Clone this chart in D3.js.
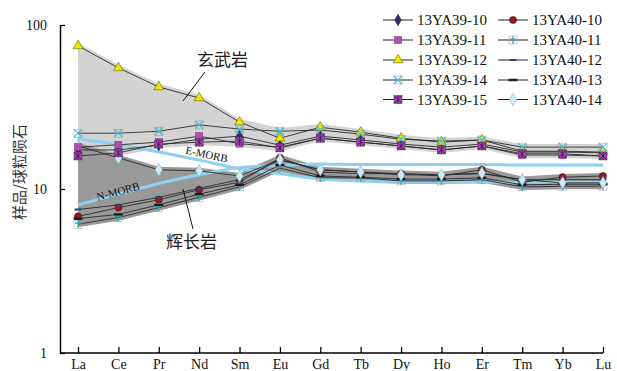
<!DOCTYPE html>
<html>
<head>
<meta charset="utf-8">
<script src="https://cdn.jsdelivr.net/npm/d3@7"></script>
<style>
  html, body { margin: 0; padding: 0; background: #fff; }
  svg { display: block; }
</style>
</head>
<body>
<svg id="chart" width="617" height="371"></svg>
<script>
// REE elements (x categories) and y tick values
const elements = ["La","Ce","Pr","Nd","Sm","Eu","Gd","Tb","Dy","Ho","Er","Tm","Yb","Lu"];
const yTicks = [1, 10, 100];

// Basalt samples (chondrite-normalised)
const s39_10 = [17.3, 17.3, 18.5, 20.1, 21.0, 18.5, 21.0, 19.9, 18.8, 18.0, 18.8, 16.8, 16.8, 16.6];
const s39_11 = [18.0, 18.6, 19.3, 21.0, 18.9, 18.0, 20.4, 19.3, 18.3, 17.3, 18.3, 16.1, 16.1, 15.9];
const s39_12 = [74.6, 54.8, 41.9, 35.9, 25.6, 20.4, 23.8, 22.2, 20.4, 19.3, 19.9, 17.0, 17.0, 16.8];
const s39_14 = [21.9, 21.9, 22.5, 24.6, 23.2, 22.5, 22.9, 21.6, 20.1, 19.6, 19.9, 18.0, 18.0, 18.0];
const s39_15 = [15.9, 16.6, 18.8, 19.3, 19.6, 17.8, 20.4, 19.3, 18.3, 17.3, 18.3, 16.4, 16.4, 15.9];

// Gabbro samples
const s40_10 = [6.8, 7.7, 8.6, 9.9, 11.0, 15.5, 12.7, 12.4, 12.4, 12.0, 13.1, 11.0, 11.8, 12.0];
const s40_11 = [6.1, 6.7, 7.7, 8.9, 10.3, 13.4, 11.7, 11.7, 11.2, 11.2, 11.4, 10.3, 10.4, 10.4];
const s40_12 = [7.5, 8.0, 8.9, 10.1, 11.4, 15.0, 13.1, 12.7, 12.4, 12.2, 12.4, 11.4, 11.4, 11.4];
const s40_13 = [6.6, 7.0, 8.0, 9.3, 10.6, 14.0, 12.0, 11.8, 11.5, 11.5, 11.7, 10.6, 10.7, 10.7];
const s40_14 = [18.3, 15.5, 13.1, 12.9, 12.0, 15.1, 13.1, 12.7, 12.2, 12.2, 12.5, 11.4, 10.9, 10.9];

// Reference MORB curves
const eMorb = [20.3, 18.6, 16.8, 15.0, 13.3, 12.4, 11.5, 11.2, 11.0, 11.0, 11.0, 11.0, 11.0, 11.0];
const nMorb = [8.0, 9.3, 10.8, 12.2, 13.5, 13.9, 14.2, 14.1, 14.1, 14.1, 14.1, 14.0, 14.0, 14.0];

const basalt = [
  { name: "13YA39-10", values: s39_10, marker: "diamondNavy" },
  { name: "13YA39-11", values: s39_11, marker: "squareMagenta" },
  { name: "13YA39-12", values: s39_12, marker: "triangleYellow" },
  { name: "13YA39-14", values: s39_14, marker: "boxX" },
  { name: "13YA39-15", values: s39_15, marker: "boxStar" }
];
const gabbro = [
  { name: "13YA40-10", values: s40_10, marker: "circleRed" },
  { name: "13YA40-11", values: s40_11, marker: "boxPlus" },
  { name: "13YA40-12", values: s40_12, marker: "dashBlue" },
  { name: "13YA40-13", values: s40_13, marker: "dashBlack" },
  { name: "13YA40-14", values: s40_14, marker: "diamondLight" }
];

const svg = d3.select("#chart");
const x = d3.scalePoint().domain(elements).range([78, 603]);
const y = d3.scaleLog().domain([1, 100]).range([353, 25]);

// envelope bands
function band(group, fill) {
  const pad = 1.045;
  const rows = elements.map((e, i) => ({
    e,
    lo: d3.min(group, s => s.values[i]) / pad,
    hi: d3.max(group, s => s.values[i]) * pad
  }));
  svg.append("path")
    .datum(rows)
    .attr("fill", fill)
    .attr("d", d3.area().x(d => x(d.e)).y0(d => y(d.lo)).y1(d => y(d.hi)));
}
band(basalt, "#d3d3d3");
band(gabbro, "#999999");

// MORB reference curves
const smooth = d3.line().x((d, i) => x(elements[i])).y(d => y(d)).curve(d3.curveMonotoneX);
[eMorb, nMorb].forEach(arr => {
  svg.append("path").datum(arr)
    .attr("fill", "none").attr("stroke", "#8dd0ef").attr("stroke-width", 3)
    .attr("d", smooth);
});

// sample lines
const straight = d3.line().x((d, i) => x(elements[i])).y(d => y(d));
const allSeries = gabbro.concat(basalt);
allSeries.forEach(s => {
  svg.append("path").datum(s.values)
    .attr("fill", "none").attr("stroke", "#2b2b2b").attr("stroke-width", 0.9)
    .attr("d", straight);
});

// marker drawing
function drawMarker(g, type, cx, cy) {
  const m = g.append("g").attr("transform", `translate(${cx},${cy})`);
  switch (type) {
    case "diamondNavy":
      m.append("path").attr("d", d3.symbol(d3.symbolDiamond, 38)())
        .attr("fill", "#2c2c6c").attr("stroke", "#15153a").attr("stroke-width", 0.5);
      break;
    case "circleRed":
      m.append("circle").attr("r", 3.6)
        .attr("fill", "#8e1d1d").attr("stroke", "#4a0b0b").attr("stroke-width", 0.5);
      break;
    case "squareMagenta":
      m.append("rect").attr("x", -3.5).attr("y", -3.5).attr("width", 7).attr("height", 7)
        .attr("fill", "#b04fb0").attr("stroke", "#7a2a7a").attr("stroke-width", 0.5);
      break;
    case "triangleYellow":
      m.append("path").attr("d", d3.symbol(d3.symbolTriangle, 42)())
        .attr("fill", "#f3e400").attr("stroke", "#6b6400").attr("stroke-width", 0.6);
      break;
    case "boxX":
      m.append("rect").attr("x", -4).attr("y", -4).attr("width", 8).attr("height", 8)
        .attr("fill", "none").attr("stroke", "#9a9a9a").attr("stroke-width", 0.5);
      m.append("path").attr("d", "M-4,-4L4,4M-4,4L4,-4")
        .attr("stroke", "#3fc0dc").attr("stroke-width", 1.2);
      break;
    case "boxStar":
      m.append("rect").attr("x", -4).attr("y", -4).attr("width", 8).attr("height", 8)
        .attr("fill", "#9b4aa8").attr("stroke", "#5a2a6a").attr("stroke-width", 0.5);
      m.append("path").attr("d", "M-4,-4L4,4M-4,4L4,-4M0,-4L0,4")
        .attr("stroke", "#4e145e").attr("stroke-width", 0.9);
      break;
    case "boxPlus":
      m.append("rect").attr("x", -4).attr("y", -4).attr("width", 8).attr("height", 8)
        .attr("fill", "none").attr("stroke", "#9a9a9a").attr("stroke-width", 0.5);
      m.append("path").attr("d", "M0,-4L0,4M-3,-1L3,-1")
        .attr("stroke", "#2aa6b8").attr("stroke-width", 1.2);
      break;
    case "dashBlue":
      m.append("rect").attr("x", -3.5).attr("y", -1).attr("width", 7).attr("height", 2)
        .attr("fill", "#1f448f");
      break;
    case "dashBlack":
      m.append("rect").attr("x", -4.5).attr("y", -1.2).attr("width", 9).attr("height", 2.4)
        .attr("fill", "#1e1e1e");
      break;
    case "diamondLight":
      m.append("path").attr("d", d3.symbol(d3.symbolDiamond, 45)())
        .attr("fill", "#cdebf5").attr("stroke", "#7bb7cc").attr("stroke-width", 0.6);
      break;
  }
}

const markerLayer = svg.append("g");
allSeries.forEach(s => {
  s.values.forEach((v, i) => drawMarker(markerLayer, s.marker, x(elements[i]), y(v)));
});

// axes
const serif = "'Liberation Serif', 'Times New Roman', serif";
const yAxis = svg.append("g").attr("transform", "translate(60,0)")
  .call(d3.axisLeft(y).tickValues(yTicks).tickFormat(d3.format("d"))
    .tickSize(-5).tickSizeOuter(0).tickPadding(13));
const xAxis = svg.append("g").attr("transform", "translate(0,353)")
  .call(d3.axisBottom(x).tickSize(-6).tickSizeOuter(0).tickPadding(6));
xAxis.select(".domain").remove();
svg.append("line").attr("x1", 60).attr("x2", x("Lu")).attr("y1", 353).attr("y2", 353)
  .attr("stroke", "#000").attr("stroke-width", 1.5);
[yAxis, xAxis].forEach(a => {
  a.selectAll("path.domain").attr("stroke", "#000").attr("stroke-width", 1.5);
  a.selectAll(".tick line").attr("stroke", "#000").attr("stroke-width", 1.3);
  a.selectAll(".tick text").attr("font-family", serif).attr("font-size", 14).attr("fill", "#111");
});

// y axis title
svg.append("text")
  .attr("transform", "translate(25,172) rotate(-90)")
  .attr("text-anchor", "middle")
  .attr("font-family", "'Noto Sans CJK SC', sans-serif")
  .attr("font-size", 15).attr("fill", "#333")
  .text("样品/球粒陨石");

// group annotations
const cjk = "'Noto Sans CJK SC', sans-serif";
svg.append("text").attr("x", 197).attr("y", 66)
  .attr("font-family", cjk).attr("font-size", 17).attr("fill", "#222").text("玄武岩");
svg.append("line").attr("x1", 205).attr("y1", 72).attr("x2", 183).attr("y2", 101)
  .attr("stroke", "#111").attr("stroke-width", 1);
svg.append("text").attr("x", 166).attr("y", 248)
  .attr("font-family", cjk).attr("font-size", 17).attr("fill", "#222").text("辉长岩");
svg.append("line").attr("x1", 183).attr("y1", 189).attr("x2", 193).attr("y2", 229)
  .attr("stroke", "#111").attr("stroke-width", 1);

svg.append("text")
  .attr("transform", "translate(206,158) rotate(12)")
  .attr("text-anchor", "middle")
  .attr("font-family", serif).attr("font-size", 11).attr("fill", "#111")
  .text("E-MORB");
svg.append("text")
  .attr("transform", "translate(119,195) rotate(-15)")
  .attr("text-anchor", "middle")
  .attr("font-family", serif).attr("font-size", 11).attr("fill", "#111")
  .text("N-MORB");

// legend
const legendRows = [20, 40, 60, 80, 99.5];
const legendCols = [
  { lineX: 383, textX: 417, items: basalt },
  { lineX: 498, textX: 532, items: gabbro }
];
const legend = svg.append("g");
legendCols.forEach(col => {
  col.items.forEach((s, i) => {
    const ly = legendRows[i];
    legend.append("line").attr("x1", col.lineX).attr("x2", col.lineX + 30)
      .attr("y1", ly).attr("y2", ly).attr("stroke", "#222").attr("stroke-width", 1);
    drawMarker(legend, s.marker, col.lineX + 15, ly);
    legend.append("text").attr("x", col.textX).attr("y", ly + 5)
      .attr("font-family", serif).attr("font-size", 15).attr("fill", "#111")
      .text(s.name);
  });
});
</script>
</body>
</html>
